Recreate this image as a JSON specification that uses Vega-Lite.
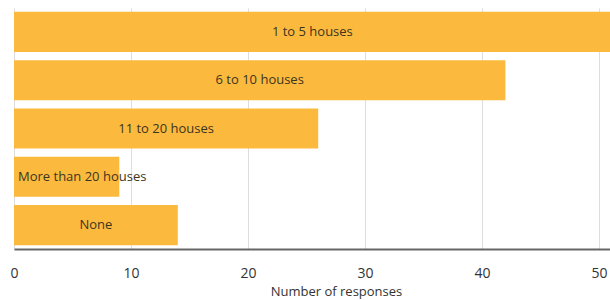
{
  "$schema": "https://vega.github.io/schema/vega-lite/v6.json",
  "width": 596,
  "height": 241,
  "autosize": {"type": "none"},
  "padding": {"left": 14, "top": 8, "right": 0, "bottom": 51},
  "background": "white",
  "config": {
    "font": "Open Sans",
    "view": {"stroke": null}
  },
  "data": {
    "values": [
      {"answer": "1 to 5 houses", "responses": 51},
      {"answer": "6 to 10 houses", "responses": 42},
      {"answer": "11 to 20 houses", "responses": 26},
      {"answer": "More than 20 houses", "responses": 9},
      {"answer": "None", "responses": 14}
    ]
  },
  "encoding": {
    "y": {
      "field": "answer",
      "type": "nominal",
      "sort": null,
      "axis": null,
      "scale": {"paddingInner": 0.17, "paddingOuter": 0.08}
    }
  },
  "layer": [
    {
      "mark": {"type": "bar", "color": "#FBBA3E", "clip": true},
      "encoding": {
        "x": {
          "field": "responses",
          "type": "quantitative",
          "scale": {"domain": [0, 50.94], "nice": false},
          "axis": {
            "title": "Number of responses",
            "values": [0, 10, 20, 30, 40, 50],
            "grid": true,
            "gridColor": "#dddddd",
            "gridWidth": 1,
            "ticks": false,
            "labelFlush": false,
            "domainColor": "#666666",
            "domainWidth": 2,
            "labelFontSize": 14,
            "labelColor": "#333333",
            "labelPadding": 17,
            "labelFont": "Open Sans",
            "titleFont": "Open Sans",
            "titleFontSize": 13,
            "titleFontWeight": "normal",
            "titleColor": "#333333",
            "titlePadding": 5,
            "titleX": 322
          }
        }
      }
    },
    {
      "transform": [
        {"filter": "datum.answer !== 'More than 20 houses'"},
        {"calculate": "datum.responses / 2", "as": "mid"}
      ],
      "mark": {"type": "text", "fontSize": 13, "color": "#3d3420", "align": "center", "baseline": "middle"},
      "encoding": {
        "x": {"field": "mid", "type": "quantitative"},
        "text": {"field": "answer"}
      }
    },
    {
      "transform": [
        {"filter": "datum.answer === 'More than 20 houses'"}
      ],
      "mark": {"type": "text", "fontSize": 13, "color": "#3d3420", "align": "left", "baseline": "middle", "dx": 4},
      "encoding": {
        "x": {"datum": 0, "type": "quantitative"},
        "text": {"field": "answer"}
      }
    }
  ]
}
